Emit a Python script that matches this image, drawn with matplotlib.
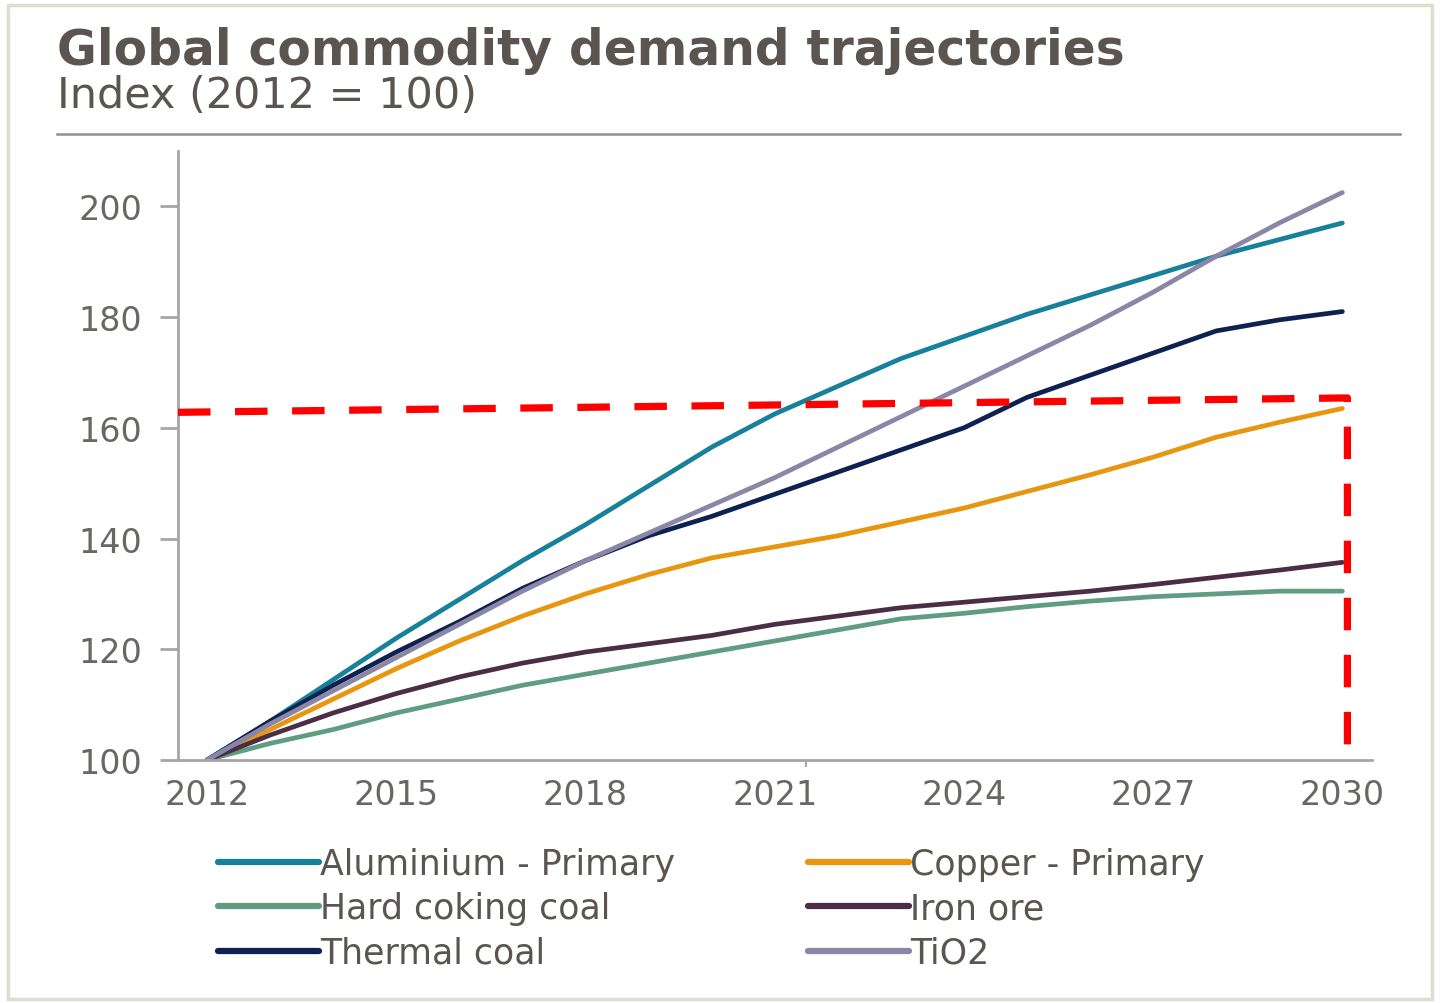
import matplotlib
matplotlib.use("Agg")
import matplotlib.pyplot as plt
from matplotlib.lines import Line2D
from matplotlib.patches import Rectangle

# Demand index by year (2012 = 100)
years = list(range(2012, 2031))
aluminium = [100, 107, 114.5, 122, 129, 136, 142.5, 149.5, 156.5, 162.5, 167.5,
             172.5, 176.5, 180.5, 184, 187.5, 191, 194, 197]
copper = [100, 105.5, 111, 116.5, 121.5, 126, 130, 133.5, 136.5, 138.5, 140.5,
          143, 145.5, 148.5, 151.5, 154.7, 158.3, 161, 163.5]
coking_coal = [100, 103, 105.5, 108.5, 111, 113.5, 115.5, 117.5, 119.5, 121.5,
               123.5, 125.5, 126.5, 127.7, 128.7, 129.5, 130, 130.5, 130.5]
iron_ore = [100, 104.5, 108.5, 112, 115, 117.5, 119.5, 121, 122.5, 124.5, 126,
            127.5, 128.5, 129.5, 130.5, 131.7, 133, 134.3, 135.7]
thermal_coal = [100, 107, 113.5, 119.5, 125, 131, 136, 140.5, 144, 148, 152, 156,
                160, 165.5, 169.5, 173.5, 177.5, 179.5, 181]
tio2 = [100, 106.5, 112.5, 118.5, 124.5, 130.5, 136, 141, 146, 151, 156.5, 162,
        167.5, 173, 178.5, 184.5, 191, 197, 202.5]

series_names = ["Aluminium - Primary", "Copper - Primary", "Hard coking coal",
                "Iron ore", "Thermal coal", "TiO2"]
series_values = [aluminium, copper, coking_coal, iron_ore, thermal_coal, tio2]
series_colors = ["#17819b", "#e8960f", "#5f9c80", "#4b2d46", "#0e2150", "#8a86a8"]

x_tick_years = [2012, 2015, 2018, 2021, 2024, 2027, 2030]
y_ticks = [100, 120, 140, 160, 180, 200]

# Highlight guide: level line and 2030 marker
guide_x = [2011.54, 2030.08, 2030.08]
guide_y = [162.8, 165.4, 102]

text_color = "#5a5550"
axis_color = "#a6a6a6"

W, H = 1444, 1004
fig = plt.figure(figsize=(W / 100, H / 100), dpi=100, facecolor="white")
plt.rcParams["font.family"] = ["DejaVu Sans"]

# outer frame
fig.patches.append(Rectangle((8 / W, 1 - 1000 / H), 1424 / W, 994 / H,
                             transform=fig.transFigure, fill=False,
                             edgecolor="#dcdfcc", linewidth=2.5))

fig.text(57 / W, 1 - 65 / H, "Global commodity demand trajectories",
         fontsize=35, fontweight="bold", color=text_color, ha="left",
         va="baseline")
fig.text(57 / W, 1 - 108 / H, "Index (2012 = 100)", fontsize=31,
         color=text_color, ha="left", va="baseline")
fig.add_artist(Line2D([57 / W, 1400 / W], [1 - 135 / H, 1 - 135 / H],
                      transform=fig.transFigure, color="#8f8f8f", lw=1.8))

ax = fig.add_axes([178 / W, 1 - 761 / H, (1372 - 178) / W, (761 - 152) / H])
for name, vals, col in zip(series_names, series_values, series_colors):
    ax.plot(years, vals, color=col, lw=3.4, label=name,
            solid_capstyle="round")

ax.plot(guide_x, guide_y, color="#ff0000", lw=5.2,
        linestyle=(0, (4.5, 3.4)), clip_on=False, zorder=5)

ax.set_xlim(2011.54, 2030.47)
ax.set_ylim(100, 210)
ax.set_xticks(x_tick_years)
ax.set_xticklabels([str(y) for y in x_tick_years])
ax.set_yticks(y_ticks)
ax.set_xticks([2021.5], minor=True)

for s in ["top", "right"]:
    ax.spines[s].set_visible(False)
for s in ["left", "bottom"]:
    ax.spines[s].set_color(axis_color)
    ax.spines[s].set_linewidth(2)

ax.tick_params(axis="y", length=13, width=2, color=axis_color,
               labelsize=24, labelcolor="#6a6664", pad=13)
ax.tick_params(axis="x", which="major", length=0, labelsize=24,
               labelcolor="#6a6664", pad=13)
ax.tick_params(axis="x", which="minor", length=5, width=1.5,
               color=axis_color)

handles = [Line2D([], [], color=c, lw=4.5, solid_capstyle="round")
           for c in series_colors]
leg_kw = dict(frameon=False, fontsize=25, handlelength=2.9,
              handletextpad=0.05, labelspacing=0.3, borderpad=0,
              borderaxespad=0, loc="upper left", labelcolor=text_color)
leg1 = fig.legend(handles[0::2], series_names[0::2],
                  bbox_to_anchor=(218 / W, 1 - 848 / H), **leg_kw)
leg2 = fig.legend(handles[1::2], series_names[1::2],
                  bbox_to_anchor=(808 / W, 1 - 848 / H), **leg_kw)

fig.savefig("out.png", dpi=100, facecolor="white")
